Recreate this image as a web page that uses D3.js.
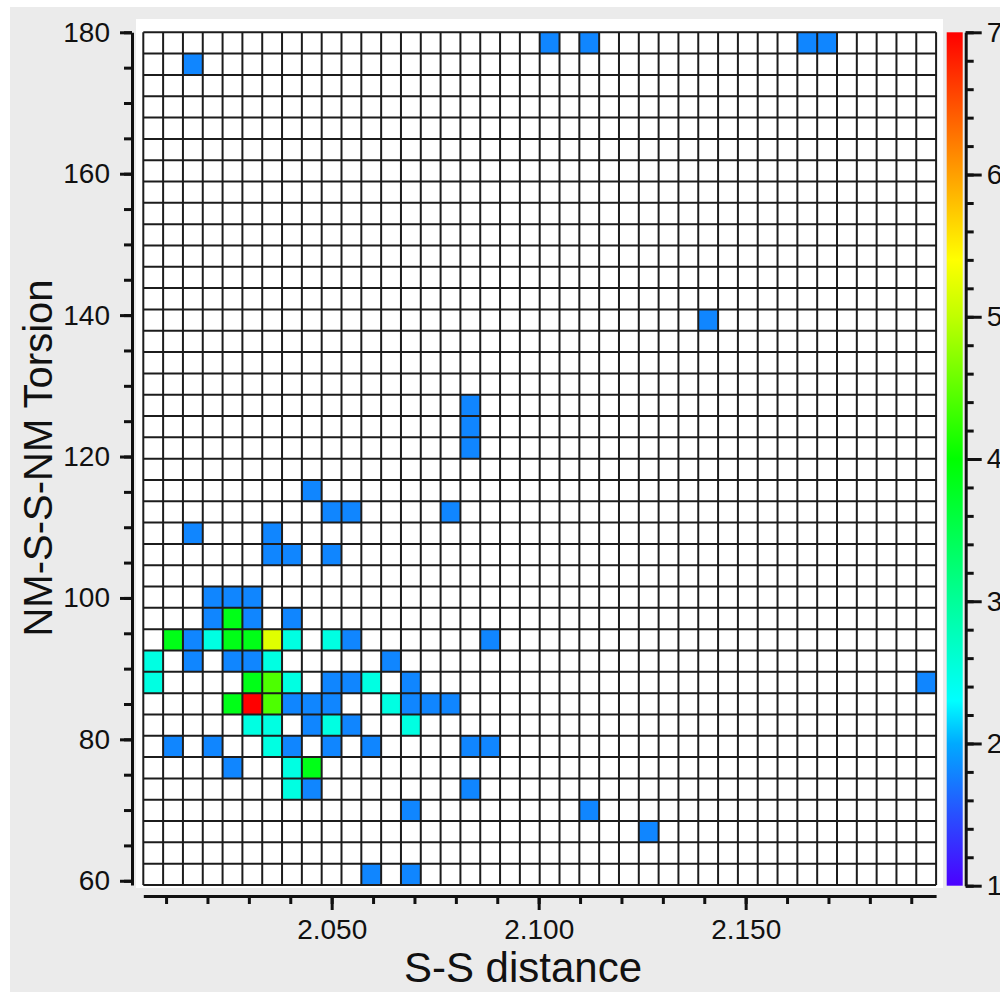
<!DOCTYPE html>
<html>
<head>
<meta charset="utf-8">
<script src="https://cdn.jsdelivr.net/npm/d3@7"></script>
<style>
  html, body { margin: 0; padding: 0; background: #fff; }
  svg { display: block; font-family: "Liberation Sans", Arial, Helvetica, sans-serif; }
</style>
</head>
<body>
<svg id="chart" width="1000" height="992"></svg>
<script>
// ── Data ────────────────────────────────────────────────────────

// value ranges covered by the 40 x 40 histogram bins
const xExtent  = [2.0045, 2.196];   // S-S distance
const yExtent  = [59.4, 180];       // NM-S-S-NM torsion
const binCount = 40;

const xTickValues = [2.05, 2.10, 2.15];
const xTickLabels = ['2.050', '2.100', '2.150'];
const yTickValues = [60, 80, 100, 120, 140, 160, 180];
const colorTicks  = [1, 2, 3, 4, 5, 6, 7];

// filled bins: [x bin, y bin (0 = bottom)]
const cells = [
  [20, 39, 1.8], [22, 39, 1.8], [33, 39, 1.8], [34, 39, 1.8],
  [2, 38, 1.8],
  [28, 26, 1.8],
  [16, 22, 1.8], [16, 21, 1.8], [16, 20, 1.8],
  [8, 18, 1.8],
  [9, 17, 1.8], [10, 17, 1.8], [15, 17, 1.8],
  [2, 16, 1.8], [6, 16, 1.8],
  [6, 15, 1.8], [7, 15, 1.8], [9, 15, 1.8],
  [3, 13, 1.8], [4, 13, 1.8], [5, 13, 1.8],
  [3, 12, 1.8], [4, 12, 3.85], [5, 12, 1.8], [7, 12, 1.8],
  [1, 11, 3.85], [2, 11, 1.8], [3, 11, 2.5], [4, 11, 3.85], [5, 11, 3.85],
  [6, 11, 5.2], [7, 11, 2.5], [9, 11, 2.5], [10, 11, 1.8], [17, 11, 1.8],
  [0, 10, 2.5], [2, 10, 1.8], [4, 10, 1.8], [5, 10, 1.8], [6, 10, 2.5], [12, 10, 1.8],
  [0, 9, 2.5], [5, 9, 3.85], [6, 9, 4.4], [7, 9, 2.5], [9, 9, 1.8], [10, 9, 1.8],
  [11, 9, 2.5], [13, 9, 1.8], [39, 9, 1.8],
  [4, 8, 3.85], [5, 8, 7], [6, 8, 4.4], [7, 8, 1.8], [8, 8, 1.8], [9, 8, 1.8],
  [12, 8, 2.5], [13, 8, 1.8], [14, 8, 1.8], [15, 8, 1.8],
  [5, 7, 2.5], [6, 7, 2.5], [8, 7, 1.8], [9, 7, 2.5], [10, 7, 1.8], [13, 7, 2.5],
  [1, 6, 1.8], [3, 6, 1.8], [6, 6, 2.5], [7, 6, 1.8], [9, 6, 1.8], [11, 6, 1.8],
  [16, 6, 1.8], [17, 6, 1.8],
  [4, 5, 1.8], [7, 5, 2.5], [8, 5, 3.85],
  [7, 4, 2.5], [8, 4, 1.8], [16, 4, 1.8],
  [13, 3, 1.8], [22, 3, 1.8],
  [25, 2, 1.8],
  [11, 0, 1.8], [13, 0, 1.8]
];

// colour bar stops (value -> colour)
const colorDomain = [1, 1.5, 2, 2.3, 3, 4, 5, 5.4, 6, 7];
const colorRange  = ['#4b00ff', '#2850ff', '#00aaff', '#00ffff', '#00ff99',
                     '#00ff00', '#c0ff00', '#ffff00', '#ffa000', '#ff0000'];

// ── Scaffolding ─────────────────────────────────────────────────

const svg = d3.select('#chart');

svg.append('rect')
  .attr('x', 10).attr('y', 7)
  .attr('width', 990).attr('height', 985)
  .attr('fill', '#ebebeb');

svg.append('rect')
  .attr('x', 136).attr('y', 19)
  .attr('width', 807).attr('height', 869)
  .attr('fill', '#fff');

const x = d3.scaleLinear().domain(xExtent).range([143.3, 936.1]);
const y = d3.scaleLinear().domain(yExtent).range([885, 32.3]);
const c = d3.scaleLinear().domain([1, 7]).range([885.7, 32.3]);
const color = d3.scaleLinear().domain(colorDomain).range(colorRange)
  .interpolate(d3.interpolateRgb);

const dx = (xExtent[1] - xExtent[0]) / binCount;
const dy = (yExtent[1] - yExtent[0]) / binCount;

// ── Cells ───────────────────────────────────────────────────────

svg.append('g').selectAll('rect')
  .data(cells)
  .join('rect')
    .attr('x', d => x(xExtent[0] + d[0] * dx))
    .attr('y', d => y(yExtent[0] + (d[1] + 1) * dy))
    .attr('width', x(xExtent[0] + dx) - x(xExtent[0]))
    .attr('height', y(yExtent[0]) - y(yExtent[0] + dy))
    .attr('fill', d => color(d[2]));

// ── Grid ────────────────────────────────────────────────────────

const edges = d3.range(binCount + 1);
const grid = svg.append('g')
  .attr('stroke', '#1c1c1c')
  .attr('stroke-width', 2);

grid.selectAll('.v')
  .data(edges)
  .join('line')
    .attr('class', 'v')
    .attr('x1', k => x(xExtent[0] + k * dx)).attr('x2', k => x(xExtent[0] + k * dx))
    .attr('y1', y(yExtent[0])).attr('y2', y(yExtent[1]));

grid.selectAll('.h')
  .data(edges)
  .join('line')
    .attr('class', 'h')
    .attr('y1', k => y(yExtent[0] + k * dy)).attr('y2', k => y(yExtent[0] + k * dy))
    .attr('x1', x(xExtent[0])).attr('x2', x(xExtent[1]));

// ── Axes ────────────────────────────────────────────────────────

function styleAxis(g) {
  g.selectAll('path, line').attr('stroke', '#111').attr('stroke-width', 3);
  g.selectAll('text').attr('fill', '#111').attr('font-size', 28)
    .attr('font-family', '"Liberation Sans", Arial, Helvetica, sans-serif');
}

// x axis: minor every 0.01, labelled every 0.05
svg.append('g')
  .attr('transform', 'translate(0,896)')
  .call(d3.axisBottom(x).tickValues(d3.range(2.01, 2.195, 0.01))
    .tickSize(8).tickSizeOuter(0).tickFormat(''))
  .call(styleAxis);

svg.append('g')
  .attr('transform', 'translate(0,896)')
  .call(d3.axisBottom(x).tickValues(xTickValues)
    .tickSize(14).tickSizeOuter(0).tickPadding(9)
    .tickFormat((d, i) => xTickLabels[i]))
  .call(styleAxis)
  .call(g => g.select('.domain').remove());

// y axis: minor every 5, labelled every 20
svg.append('g')
  .attr('transform', 'translate(132,0)')
  .call(d3.axisLeft(y).tickValues(d3.range(60, 181, 5))
    .tickSize(8).tickSizeOuter(0).tickFormat(''))
  .call(styleAxis);

svg.append('g')
  .attr('transform', 'translate(132,0)')
  .call(d3.axisLeft(y).tickValues(yTickValues)
    .tickSize(12).tickSizeOuter(0).tickPadding(10).tickFormat(d3.format('d')))
  .call(styleAxis)
  .call(g => g.select('.domain').remove());

// ── Colour bar ──────────────────────────────────────────────────

const grad = svg.append('defs').append('linearGradient')
  .attr('id', 'cbar')
  .attr('x1', 0).attr('y1', 1).attr('x2', 0).attr('y2', 0);
grad.selectAll('stop')
  .data(colorDomain)
  .join('stop')
    .attr('offset', v => (v - 1) / 6)
    .attr('stop-color', v => color(v));

svg.append('rect')
  .attr('x', 946.7).attr('y', c(7))
  .attr('width', 16).attr('height', c(1) - c(7))
  .attr('fill', 'url(#cbar)');

svg.append('g')
  .attr('transform', 'translate(965.7,0)')
  .call(d3.axisRight(c).tickValues(d3.range(1, 7.01, 0.2))
    .tickSize(8).tickSizeOuter(0).tickFormat(''))
  .call(styleAxis);

svg.append('g')
  .attr('transform', 'translate(965.7,0)')
  .call(d3.axisRight(c).tickValues(colorTicks)
    .tickSize(16).tickSizeOuter(0).tickPadding(5).tickFormat(d3.format('d')))
  .call(styleAxis)
  .call(g => g.select('.domain').remove());

// ── Titles ──────────────────────────────────────────────────────

svg.append('text')
  .attr('x', 523).attr('y', 982)
  .attr('text-anchor', 'middle')
  .attr('font-size', 42)
  .attr('fill', '#111')
  .text('S-S distance');

svg.append('text')
  .attr('transform', 'translate(52,458) rotate(-90)')
  .attr('text-anchor', 'middle')
  .attr('font-size', 40)
  .attr('fill', '#111')
  .text('NM-S-S-NM Torsion');
</script>
</body>
</html>
